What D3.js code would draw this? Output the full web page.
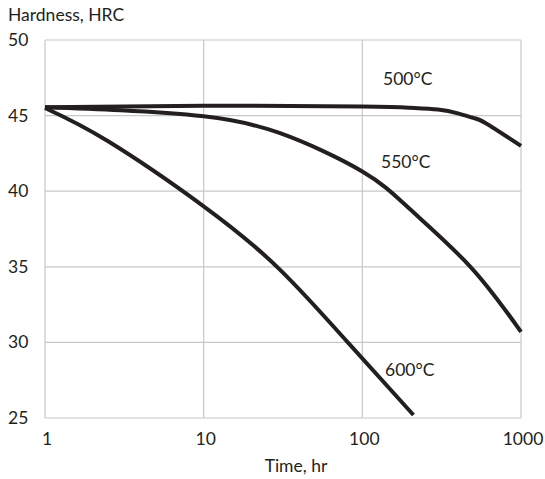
<!DOCTYPE html>
<html>
<head>
<meta charset="utf-8">
<script src="https://cdn.jsdelivr.net/npm/d3@7"></script>
<style>
  html, body { margin: 0; padding: 0; background: #fff; }
  svg text { font-family: Lato, "Open Sans", sans-serif; fill: #231f20; }
</style>
</head>
<body>
<svg id="chart" width="545" height="479"></svg>
<script>
// Tempering time (hours) and resulting hardness (HRC) for three temperatures
const time500 = [1, 10, 100, 200, 300, 400, 500, 600, 1000];
const hrc500  = [45.55, 45.65, 45.6, 45.52, 45.4, 45.15, 44.85, 44.5, 43.0];

const time550 = [1, 3, 10, 30, 100, 200, 480, 1000];
const hrc550  = [45.55, 45.35, 44.95, 43.85, 41.3, 38.8, 35.0, 30.7];

const time600 = [1, 2.5, 10, 30, 81, 210];
const hrc600  = [45.5, 43.3, 39.0, 34.85, 30.0, 25.2];

const xTicks = [1, 10, 100, 1000];
const yTicks = [25, 30, 35, 40, 45, 50];

const seriesLabels = ["500°C", "550°C", "600°C"];

const svg = d3.select("#chart");
const plotLeft = 45, plotTop = 40, plotRight = 521, plotBottom = 418;

const x = d3.scaleLog().domain([1, 1000]).range([plotLeft, plotRight]);
const y = d3.scaleLinear().domain([25, 50]).range([plotBottom, plotTop]);

const gridColor = "#c8c8c8";

// Gridlines
svg.append("g").selectAll("line")
  .data(yTicks)
  .join("line")
  .attr("x1", plotLeft).attr("x2", plotRight)
  .attr("y1", d => y(d)).attr("y2", d => y(d))
  .attr("stroke", gridColor).attr("stroke-width", 1.2);

svg.append("g").selectAll("line")
  .data(xTicks)
  .join("line")
  .attr("x1", d => x(d)).attr("x2", d => x(d))
  .attr("y1", plotTop).attr("y2", plotBottom)
  .attr("stroke", gridColor).attr("stroke-width", 1.2);

// Tick labels
svg.append("g").selectAll("text")
  .data(yTicks)
  .join("text")
  .attr("x", 8)
  .attr("y", d => y(d) + 6)
  .attr("font-size", 17.5)
  .text(d => d);

svg.append("g").selectAll("text")
  .data(xTicks)
  .join("text")
  .attr("x", d => x(d) + 2)
  .attr("y", 444.5)
  .attr("text-anchor", "middle")
  .attr("font-size", 17.5)
  .text(d => d);

// Axis titles
svg.append("text")
  .attr("x", 8).attr("y", 21)
  .attr("font-size", 17.5)
  .text("Hardness, HRC");

svg.append("text")
  .attr("x", 296).attr("y", 472)
  .attr("text-anchor", "middle")
  .attr("font-size", 17.5)
  .text("Time, hr");

// Curves
const line = d3.line()
  .x(d => x(d[0]))
  .y(d => y(d[1]))
  .curve(d3.curveNatural);

const series = [
  d3.zip(time500, hrc500),
  d3.zip(time550, hrc550),
  d3.zip(time600, hrc600)
];

svg.append("g").selectAll("path")
  .data(series)
  .join("path")
  .attr("d", line)
  .attr("fill", "none")
  .attr("stroke", "#231f20")
  .attr("stroke-width", 4)
  .attr("stroke-linejoin", "round");

// Curve labels
const labelPos = [[383, 85], [381, 168], [385, 375.5]];
svg.append("g").selectAll("text")
  .data(seriesLabels)
  .join("text")
  .attr("x", (d, i) => labelPos[i][0])
  .attr("y", (d, i) => labelPos[i][1])
  .attr("font-size", 17.5)
  .text(d => d);
</script>
</body>
</html>
